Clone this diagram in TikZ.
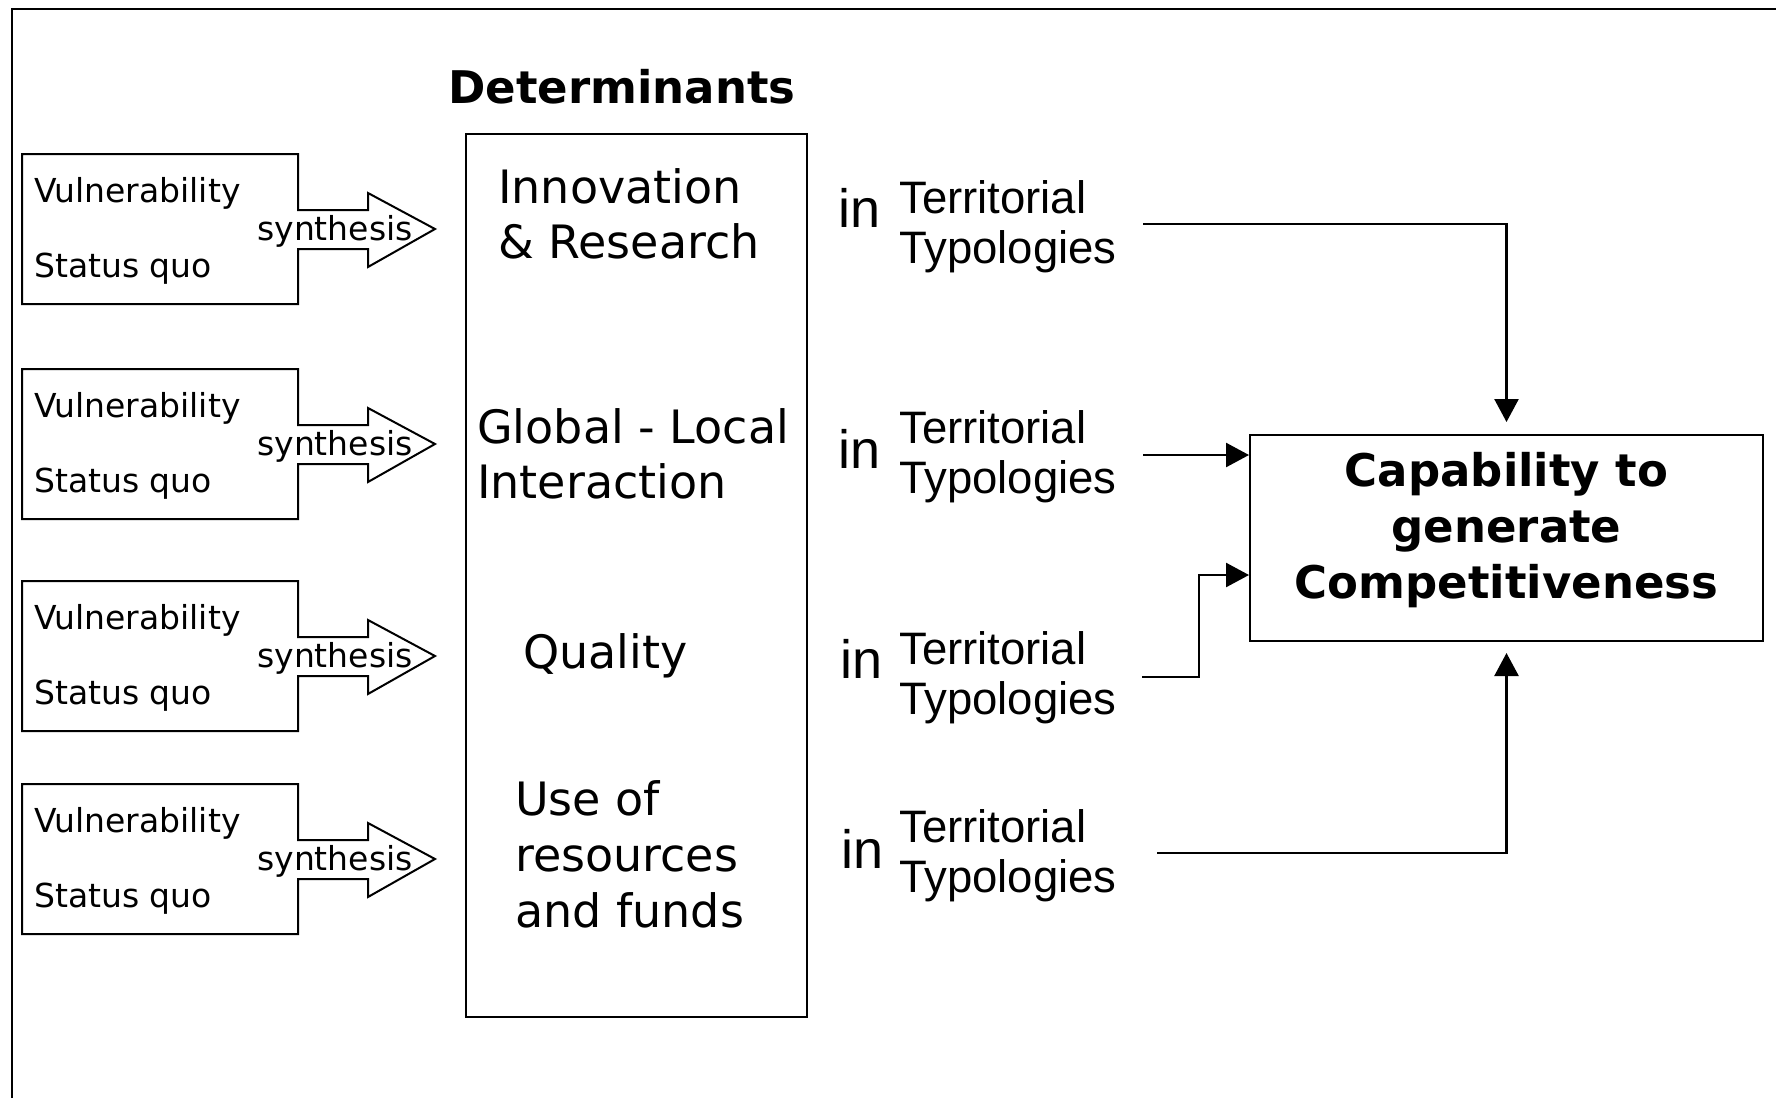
\documentclass[tikz,border=0pt]{standalone}
\usepackage{fontspec}
\setmainfont{DejaVu Sans}
\newfontfamily\arialf{Liberation Sans}
\usetikzlibrary{arrows.meta}
\begin{document}
\begin{tikzpicture}[x=1pt,y=-1pt,
  outerframe/.style={line width=2pt, draw=black},
  sbox/.style={line width=2pt, line join=miter, draw=black},
  vtext/.style={font=\fontsize{33}{40}\selectfont, anchor=base west, inner sep=0},
  syn/.style={font=\fontsize{33}{40}\selectfont, anchor=base, inner sep=0},
  dtext/.style={font=\fontsize{46}{55}\selectfont, anchor=base west, align=left, inner sep=0},
  intext/.style={font=\arialf\fontsize{54}{60}\selectfont, anchor=base west, inner sep=0},
  tttext/.style={font=\arialf\fontsize{45.5}{50}\selectfont, anchor=base west, align=left, inner sep=0},
  conn/.style={line width=2.5pt, draw=black, -{Triangle[width=24pt,length=23pt]}},
  bigbox/.style={draw=black, line width=2pt, inner sep=0},
]
\useasboundingbox (0,0) rectangle (1776,1098);
\fill[white] (0,0) rectangle (1776,1098);
% outer frame (only top and left visible)
\draw[outerframe] (12,1098) -- (12,9) -- (1776,9);

% left boxes with synthesis arrows
\foreach \T/\k in {154/1,369/2,581/3,784/4}{
  \draw[sbox] (22,\T) -- (298,\T) -- (298,\T+56) -- (368,\T+56) -- (368,\T+39)
    -- (435,\T+75) -- (368,\T+113) -- (368,\T+95) -- (298,\T+95) -- (298,\T+150)
    -- (22,\T+150) -- cycle;
  \node[vtext] (vul\k) at (34,\T+48) {Vulnerability};
  \node[vtext] (stq\k) at (34,\T+123) {Status quo};
  \node[syn] (syn\k) at (335,\T+86) {synthesis};
}

% determinants (multi-line nodes: base = baseline of last line)
\node[font=\bfseries\fontsize{45}{50}\selectfont, anchor=base west, inner sep=0] (dettitle) at (448,103) {Determinants};
\node[bigbox, minimum width=341pt, minimum height=883pt] (det) at (636.5,575.5) {};
\node[dtext] (d1) at (498,258) {Innovation\\\& Research};
\node[dtext] (d2) at (477,498) {Global - Local\\Interaction};
\node[dtext] (d3) at (523,668) {Quality};
\node[dtext, font=\fontsize{46}{56}\selectfont] (d4) at (515,927) {Use of\\resources\\and funds};

% in Territorial Typologies
\foreach \ib/\ix/\tb/\k in {227/838/263/1,468/838/493/2,678/840/714/3,868/841/892/4}{
  \node[intext] (in\k) at (\ix,\ib) {in};
  \node[tttext] (tt\k) at (899,\tb) {Territorial\\Typologies};
}

% capability box
\node[bigbox, minimum width=513pt, minimum height=206pt] (cap) at (1506.5,538) {};
\node[font=\bfseries\fontsize{45}{56}\selectfont, align=center, inner sep=0] (captxt) at (1506.5,530) {Capability to\\generate\\Competitiveness};

% connectors
\coordinate (s1) at (1143,224);
\coordinate (s2) at (1143,455);
\coordinate (s3) at (1142,677);
\coordinate (b3) at (1199,575);
\coordinate (s4) at (1157,853);
\draw[conn, shorten >=12pt] (s1) -| (cap.north);
\draw[conn] (s2) -- (s2 -| cap.west);
\draw[conn] (s3) -| (b3) -- (b3 -| cap.west);
\draw[conn, shorten >=11pt] (s4) -| (cap.south);
\end{tikzpicture}
\end{document}
